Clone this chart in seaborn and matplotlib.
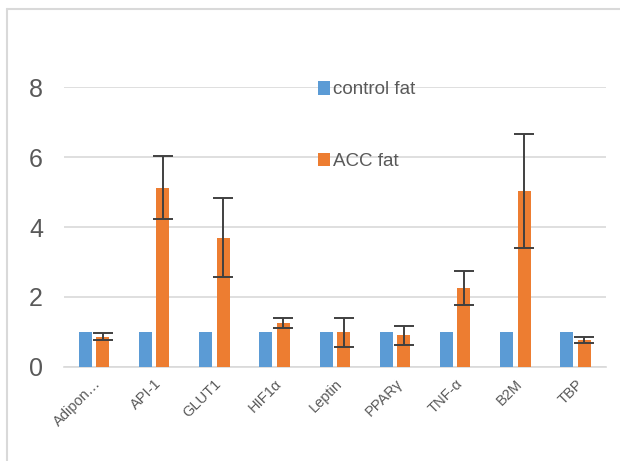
import matplotlib
matplotlib.use('Agg')
import matplotlib.pyplot as plt
from matplotlib.lines import Line2D
import pandas as pd
import seaborn as sns

genes = ['Adipon…', 'API-1', 'GLUT1', 'HIF1α', 'Leptin', 'PPARγ', 'TNF-α', 'B2M', 'TBP']
control_fat = [1, 1, 1, 1, 1, 1, 1, 1, 1]
acc_fat = [0.87, 5.13, 3.7, 1.25, 0.99, 0.9, 2.26, 5.03, 0.77]
acc_err = [0.1, 0.9, 1.13, 0.15, 0.42, 0.27, 0.49, 1.63, 0.09]
groups = ['control fat', 'ACC fat']

df = pd.DataFrame({
    'gene': genes * 2,
    'group': [groups[0]] * len(genes) + [groups[1]] * len(genes),
    'value': control_fat + acc_fat,
})

sns.set_theme(style='white')
plt.rcParams['font.family'] = ['Liberation Sans', 'DejaVu Sans']
grey = '#595959'

fig = plt.figure(figsize=(6.2, 4.61), dpi=100)
ax = fig.add_axes([0.103, 0.204, 0.874, 0.607])

sns.barplot(data=df, x='gene', y='value', hue='group', palette=['#5B9BD5', '#ED7D31'],
            saturation=1, width=0.58, gap=0.25, errorbar=None, ax=ax, zorder=3, linewidth=0)

# error bars on the ACC bars
bars = ax.containers[1]
xs = [b.get_x() + b.get_width() / 2 for b in bars]
ax.errorbar(xs, acc_fat, yerr=acc_err, fmt='none', ecolor='#404040',
            elinewidth=1.4, capsize=7, capthick=1.4, zorder=4)

ax.set_ylim(0, 8)
ax.set_xlim(-0.5, len(genes) - 0.5)
ax.set_yticks([0, 2, 4, 6, 8])
ax.grid(axis='y', color='#D9D9D9', linewidth=1.2, zorder=0)
ax.set_xlabel('')
ax.set_ylabel('')
for s in ['top', 'right', 'left']:
    ax.spines[s].set_visible(False)
ax.spines['bottom'].set_color('#D9D9D9')
ax.spines['bottom'].set_linewidth(1.2)
ax.tick_params(axis='y', labelsize=18, colors=grey, length=0, pad=15)
ax.tick_params(axis='x', labelsize=10.5, colors=grey, length=0, pad=7)
plt.setp(ax.get_xticklabels(), rotation=45, ha='right', rotation_mode='anchor')

ax.legend(loc='upper left', bbox_to_anchor=(0.497, 0.845), bbox_transform=fig.transFigure,
          frameon=False, fontsize=13.5, labelcolor=grey, borderpad=0, labelspacing=2.9,
          handlelength=0.65, handleheight=0.75, handletextpad=0.2)

# outer chart border (top and left edges)
fig.add_artist(Line2D([7 / 620, 7 / 620], [0, 1 - 9 / 461], color='#D9D9D9', linewidth=1.5))
fig.add_artist(Line2D([7 / 620, 1], [1 - 9 / 461, 1 - 9 / 461], color='#D9D9D9', linewidth=1.5))

fig.savefig('out.png', dpi=100)
